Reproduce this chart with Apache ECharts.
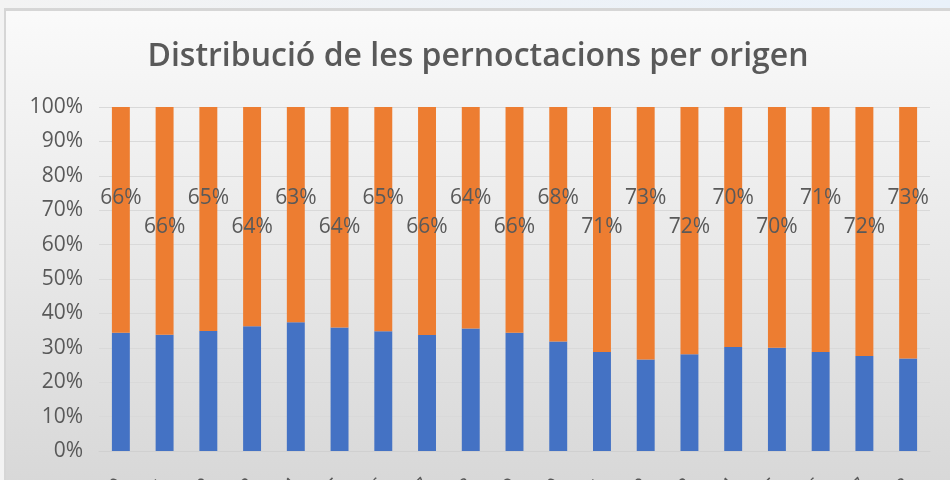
<!DOCTYPE html>
<html>
<head>
<meta charset="utf-8">
<script src="https://cdn.jsdelivr.net/npm/echarts@6/dist/echarts.min.js"></script>
<style>
  html, body { margin: 0; padding: 0; }
  body {
    width: 950px; height: 480px; overflow: hidden; position: relative;
    background: linear-gradient(to right, #f3f3f3, #e9f1fa);
  }
  #chart {
    position: absolute; left: 4px; top: 8px;
    width: 944px; height: 469px;
    border-left: 2px solid #d6d6d6; border-top: 3px solid #d6d6d6;
  }
</style>
</head>
<body>
<div id="chart"></div>
<script>
const categories = ['2000', '2001', '2002', '2003', '2004', '2005', '2006', '2007', '2008', '2009',
                    '2010', '2011', '2012', '2013', '2014', '2015', '2016', '2017', '2018'];
// share of stays, bottom (blue) and top (orange) part of each bar, in %
const residents = [34.4, 33.8, 34.9, 36.3, 37.4, 35.9, 34.8, 33.7, 35.6, 34.4,
                   31.8, 28.8, 26.6, 28.1, 30.2, 30.0, 28.8, 27.6, 26.9];
const foreigners = [65.6, 66.2, 65.1, 63.7, 62.6, 64.1, 65.2, 66.3, 64.4, 65.6,
                    68.2, 71.2, 73.4, 71.9, 69.8, 70.0, 71.2, 72.4, 73.1];
const yTicks = [0, 10, 20, 30, 40, 50, 60, 70, 80, 90, 100];

const textColor = '#595959';
const font = '"Open Sans", "DejaVu Sans", sans-serif';

const myChart = echarts.init(document.getElementById('chart'));

myChart.setOption({
    backgroundColor: new echarts.graphic.LinearGradient(0, 0, 0, 1, [
        { offset: 0, color: '#fafafa' },
        { offset: 1, color: '#d8d8d8' }
    ]),
    animation: false,
    title: {
        text: 'Distribució de les pernoctacions per origen',
        left: 'center',
        top: 25,
        textStyle: {
            color: textColor,
            fontSize: 32,
            fontWeight: 600,
            fontFamily: font
        }
    },
    grid: {
        left: 93,
        right: 20,
        top: 96,
        bottom: 29,
        outerBoundsMode: 'none',
        containLabel: false
    },
    xAxis: {
        type: 'category',
        data: categories,
        axisLine: { lineStyle: { color: '#d0d0d0' } },
        axisTick: { show: false },
        axisLabel: {
            color: textColor,
            fontSize: 20,
            fontFamily: font,
            rotate: 45,
            margin: 31
        }
    },
    yAxis: {
        type: 'value',
        min: yTicks[0],
        max: yTicks[yTicks.length - 1],
        interval: 10,
        axisLine: { show: false },
        axisTick: { show: false },
        splitLine: { lineStyle: { color: '#d9d9d9', width: 1 } },
        axisLabel: {
            color: textColor,
            fontSize: 21,
            fontFamily: font,
            margin: 16,
            formatter: '{value}%'
        }
    },
    series: [
        {
            name: 'Residents',
            type: 'bar',
            stack: 'total',
            barWidth: '41%',
            data: residents,
            itemStyle: { color: '#4472c4' }
        },
        {
            name: 'Estrangers',
            type: 'bar',
            stack: 'total',
            barWidth: '41%',
            data: foreigners.map((v, i) => ({
                value: v,
                label: { position: ['50%', i % 2 ? 120 : 91] }
            })),
            itemStyle: { color: '#ed7d31' },
            label: {
                show: true,
                align: 'center',
                verticalAlign: 'middle',
                color: textColor,
                fontSize: 21,
                fontFamily: font,
                formatter: p => Math.round(p.value) + '%'
            }
        }
    ]
});
</script>
</body>
</html>
